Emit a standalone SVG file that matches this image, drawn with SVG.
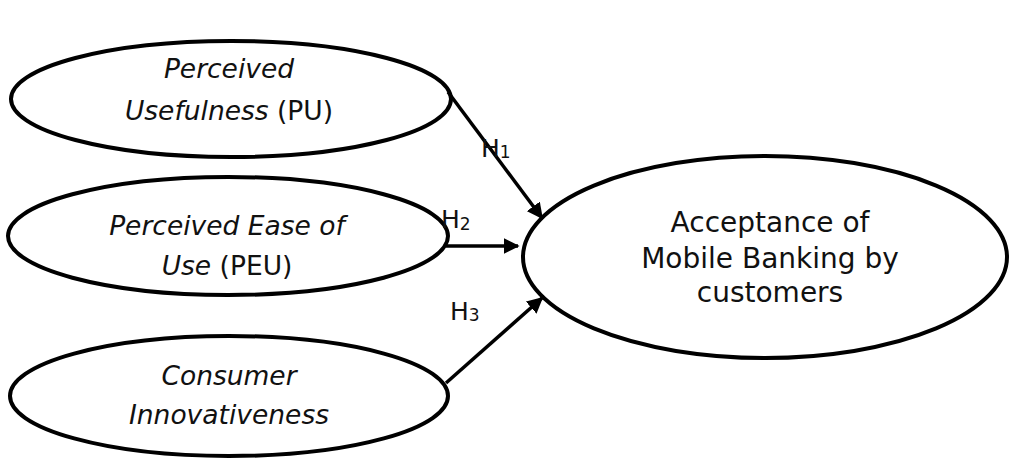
<svg xmlns="http://www.w3.org/2000/svg" width="1014" height="460" viewBox="0 0 1014 460">
<defs>
<style>
.node{fill:#fff;stroke:#000;stroke-width:4}
.t{font-family:"DejaVu Sans","Liberation Sans",sans-serif;font-size:26.5px;fill:#111;text-anchor:middle}
.r{font-size:28px}
.i{font-style:italic}
.edge{stroke:#000;stroke-width:3.5;fill:none}
.h{font-family:"DejaVu Sans","Liberation Sans",sans-serif;font-size:25px;fill:#111}
.sub{font-size:17px}
</style>
<marker id="ah" viewBox="0 0 10 10" refX="9" refY="5" markerWidth="4.6" markerHeight="4.6" markerUnits="strokeWidth" orient="auto">
<path d="M0,0 L10,5 L0,10 z" fill="#000"/>
</marker>
</defs>
<g id="pu">
<ellipse class="node" cx="231" cy="99" rx="220" ry="58"/>
<text class="t"><tspan class="i" x="229" y="78">Perceived</tspan><tspan x="229" y="120"><tspan class="i">Usefulness</tspan> (PU)</tspan></text>
</g>
<g id="peu">
<ellipse class="node" cx="228" cy="236" rx="220" ry="59"/>
<text class="t"><tspan class="i" x="227" y="235">Perceived Ease of</tspan><tspan x="227" y="275"><tspan class="i">Use</tspan> (PEU)</tspan></text>
</g>
<g id="ci">
<ellipse class="node" cx="229" cy="396" rx="219" ry="60"/>
<text class="t i"><tspan x="229" y="385">Consumer</tspan><tspan x="229" y="424">Innovativeness</tspan></text>
</g>
<g id="amb">
<ellipse class="node" cx="765" cy="257" rx="242" ry="101"/>
<text class="t r"><tspan x="770" y="232">Acceptance of</tspan><tspan x="770" y="268">Mobile Banking by</tspan><tspan x="770" y="302">customers</tspan></text>
</g>
<g id="connectors">
<line class="edge" x1="448" y1="92" x2="542" y2="218" marker-end="url(#ah)"/>
<line class="edge" x1="446" y1="246" x2="518" y2="246" marker-end="url(#ah)"/>
<line class="edge" x1="446" y1="383" x2="542" y2="298" marker-end="url(#ah)"/>
<text class="h" x="481" y="157">H<tspan class="sub" dy="1">1</tspan></text>
<text class="h" x="441" y="228">H<tspan class="sub" dy="2">2</tspan></text>
<text class="h" x="450" y="320">H<tspan class="sub" dy="1">3</tspan></text>
</g>
</svg>
